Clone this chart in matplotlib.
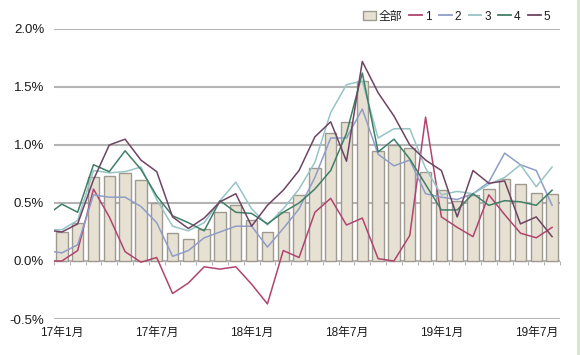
import matplotlib
matplotlib.use("Agg")
import matplotlib.pyplot as plt
import numpy as np
from matplotlib.lines import Line2D
from matplotlib.patches import Patch
from matplotlib.ticker import FuncFormatter

plt.rcParams['font.family'] = ['Liberation Sans', 'Noto Sans CJK JP', 'DejaVu Sans']

# months 17年1月 .. 19年8月
months = [f"{y}年{m}月" for y in (17, 18, 19) for m in range(1, 13)][:32]

# all (bars), in %
total = [0.25, 0.33, 0.72, 0.73, 0.76, 0.70, 0.50, 0.24, 0.19, 0.28, 0.42, 0.48,
         0.35, 0.25, 0.42, 0.57, 0.80, 1.10, 1.20, 1.55, 0.95, 1.00, 0.97, 0.77,
         0.61, 0.52, 0.57, 0.62, 0.71, 0.66, 0.59, 0.58]

# lines: first value is the month before 17年1月 (cut at the left edge)
s1 = [0.00, 0.00, 0.09, 0.62, 0.38, 0.08, -0.01, 0.03, -0.28, -0.19, -0.05, -0.07,
      -0.05, -0.20, -0.37, 0.09, 0.03, 0.42, 0.54, 0.31, 0.37, 0.02, 0.00, 0.22,
      1.24, 0.38, 0.29, 0.21, 0.57, 0.40, 0.24, 0.20, 0.29]
s2 = [0.09, 0.07, 0.14, 0.57, 0.55, 0.55, 0.47, 0.33, 0.04, 0.09, 0.20, 0.25,
      0.30, 0.30, 0.12, 0.28, 0.45, 0.72, 1.06, 1.06, 1.31, 0.92, 0.82, 0.87,
      0.58, 0.55, 0.53, 0.58, 0.68, 0.93, 0.83, 0.78, 0.48]
s3 = [0.27, 0.27, 0.35, 0.78, 0.76, 0.77, 0.81, 0.53, 0.30, 0.26, 0.33, 0.52,
      0.68, 0.45, 0.31, 0.45, 0.62, 0.85, 1.28, 1.52, 1.55, 1.06, 1.14, 1.14,
      0.80, 0.57, 0.60, 0.58, 0.66, 0.72, 0.83, 0.64, 0.81]
s4 = [0.39, 0.49, 0.42, 0.83, 0.77, 0.95, 0.79, 0.56, 0.39, 0.33, 0.26, 0.52,
      0.42, 0.41, 0.32, 0.42, 0.50, 0.62, 0.78, 1.10, 1.62, 0.94, 1.05, 0.88,
      0.66, 0.44, 0.44, 0.58, 0.48, 0.52, 0.51, 0.48, 0.61]
s5 = [0.27, 0.25, 0.32, 0.70, 1.00, 1.05, 0.87, 0.77, 0.38, 0.28, 0.37, 0.51,
      0.58, 0.30, 0.48, 0.61, 0.78, 1.07, 1.20, 0.86, 1.72, 1.45, 1.25, 1.00,
      0.87, 0.78, 0.38, 0.78, 0.67, 0.69, 0.32, 0.38, 0.21]

series = {'1': s1, '2': s2, '3': s3, '4': s4, '5': s5}
colors = {'1': '#B0446E', '2': '#8F9DC8', '3': '#97C4C6', '4': '#3F7F66', '5': '#6D4463'}
bar_face = '#E7E1D3'
bar_edge = '#9F9A90'
grid_col = '#B4B4B4'
text_col = '#1A1A1A'

fig = plt.figure(figsize=(5.8, 3.55), dpi=100)
ax = fig.add_axes([0.093, 0.1014, 0.8725, 0.817])

x = np.arange(len(months))
ymin, ymax = -0.5, 2.0

for yv in np.arange(ymin, ymax + 0.01, 0.5):
    ax.axhline(yv, color=grid_col, lw=1.5, zorder=0)

ax.bar(x, total, width=0.72, color=bar_face, edgecolor=bar_edge, linewidth=1.0, zorder=2)

xl = np.arange(-1, len(months))
for name, vals in series.items():
    ax.plot(xl, vals, color=colors[name], lw=1.1, zorder=3)

ax.set_xlim(-0.5, len(months) - 0.5)
ax.set_ylim(ymin, ymax)
ax.set_yticks(np.arange(ymin, ymax + 0.01, 0.5))
ax.yaxis.set_major_formatter(FuncFormatter(lambda v, p: f"{v:.1f}%"))
ax.set_xticks(x[::6])
ax.set_xticklabels(months[::6])
ax.tick_params(axis='both', length=0, labelsize=8.5, colors=text_col)
ax.tick_params(axis='y', pad=7, labelsize=9.5)
ax.tick_params(axis='x', pad=6)
for sp in ax.spines.values():
    sp.set_visible(False)

# category axis line at 0% with small tick marks
zero_pos = (0 - ymin) / (ymax - ymin)
sec = ax.secondary_xaxis(zero_pos)
sec.set_xticks(np.arange(-0.5, len(months), 1.0))
sec.tick_params(length=3, width=0.8, color=grid_col, labelbottom=False, labeltop=False,
                direction='out')
sec.spines['bottom'].set_visible(False)
sec.spines['top'].set_visible(False)

handles = [Patch(facecolor=bar_face, edgecolor=bar_edge, linewidth=1.0, label='全部')]
for name in series:
    handles.append(Line2D([], [], color=colors[name], lw=1.3, label=name))
fig.legend(handles=handles, loc='upper right', bbox_to_anchor=(0.967, 1.0), ncol=6,
           frameon=False, fontsize=8.5, handlelength=1.1, handletextpad=0.25,
           columnspacing=0.6, labelcolor=text_col)

fig.add_artist(Line2D([0.997, 0.997], [0, 1], transform=fig.transFigure,
                      color='#CFE8C8', lw=2))

fig.savefig('out.png', dpi=100)
